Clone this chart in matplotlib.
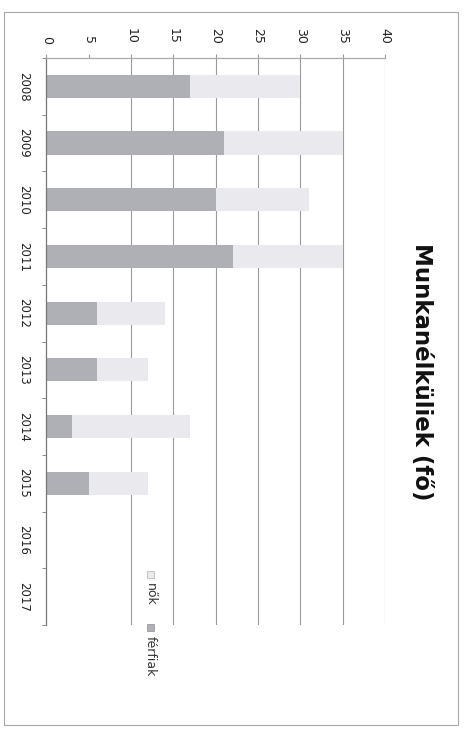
import matplotlib
matplotlib.use('Agg')
import matplotlib.pyplot as plt
from matplotlib.patches import Rectangle
import numpy as np

# unemployed people per year (scanned page, chart is rotated 90 degrees)
years = ['2008', '2009', '2010', '2011', '2012', '2013', '2014', '2015', '2016', '2017']
ferfiak = [17, 21, 20, 22, 6, 6, 3, 5, 0, 0]
nok = [13, 14, 11, 13, 8, 6, 14, 7, 0, 0]
value_ticks = [0, 5, 10, 15, 20, 25, 30, 35, 40]

W, H = 469, 731
dark = '#afb0b5'
light = '#e9e9ee'
grid_col = '#9a9a9a'


def fx(px):
    return px / W


def fy(py):
    return 1 - py / H


fig = plt.figure(figsize=(W / 100, H / 100), dpi=100)
ax = fig.add_axes([fx(46.3), fy(625), (385 - 46.3) / W, (625 - 58) / H])

y = np.arange(len(years))
ax.barh(y, ferfiak, height=0.41, color=dark, zorder=2)
ax.barh(y, nok, left=ferfiak, height=0.41, color=light, zorder=2)

ax.set_xlim(0, 40)
ax.set_ylim(len(years) - 0.5, -0.5)

# gridlines (the one at 5 is not visible on the scan)
for v in value_ticks[2:]:
    ax.axvline(v, color=grid_col, lw=0.8, zorder=1)

# value axis sits on top, labels read top to bottom
ax.xaxis.tick_top()
ax.set_xticks(value_ticks)
ax.set_xticklabels([str(v) for v in value_ticks], rotation=-90, ha='center', va='bottom',
                   fontsize=9, color='#222222')
ax.tick_params(axis='x', length=3, pad=7, color=grid_col)

ax.set_yticks(y)
ax.set_yticklabels(years, rotation=-90, va='center', fontsize=8.5, color='#222222')
ax.tick_params(axis='y', which='major', length=0, pad=11.5)
ax.set_yticks(np.arange(-0.5, len(years)), minor=True)
ax.tick_params(axis='y', which='minor', length=3, color='#777777')

for s in ['right', 'bottom']:
    ax.spines[s].set_visible(False)
ax.spines['left'].set_color('#777777')
ax.spines['top'].set_color('#aaaaaa')
ax.spines['left'].set_linewidth(0.9)
ax.spines['top'].set_linewidth(0.9)

# title
fig.text(fx(421), fy(372), 'Munkanélküliek (fő)', rotation=-90, ha='center', va='center',
         fontsize=16.5, fontweight='bold', color='#111111')

# legend, drawn rotated like the rest of the page
sq = 7
fig.patches.append(Rectangle((fx(146.5), fy(578)), sq / W, sq / H, transform=fig.transFigure,
                             facecolor=light, edgecolor='#bbbbbb', lw=0.6))
fig.text(fx(150), fy(583), 'nők', rotation=-90, ha='center', va='top', fontsize=9, color='#333333')
fig.patches.append(Rectangle((fx(146.5), fy(631)), sq / W, sq / H, transform=fig.transFigure,
                             facecolor=dark, edgecolor='#999999', lw=0.6))
fig.text(fx(150), fy(636), 'férfiak', rotation=-90, ha='center', va='top', fontsize=9, color='#333333')

# outer chart border
fig.patches.append(Rectangle((fx(4), fy(725)), (458 - 4) / W, (725 - 12) / H,
                             transform=fig.transFigure, fill=False, edgecolor='#a8a8a8', lw=0.8))

fig.savefig('out.png', dpi=100)
plt.close('all')
